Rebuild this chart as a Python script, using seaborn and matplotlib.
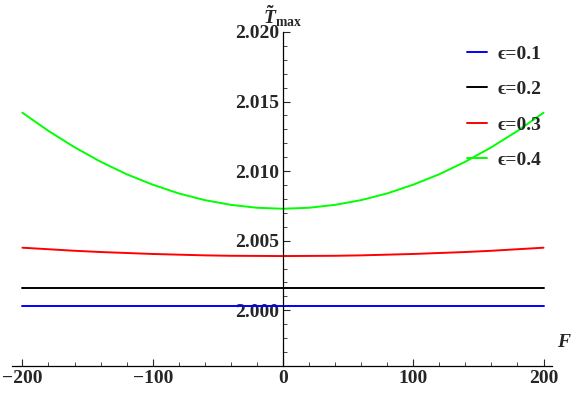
import seaborn as sns
import matplotlib.pyplot as plt
import pandas as pd
from matplotlib.ticker import MultipleLocator

# F values and T_max
F = [-200, -180, -160, -140, -120, -100, -80, -60, -40, -20, 0,
     20, 40, 60, 80, 100, 120, 140, 160, 180, 200]
t01 = [2.0003] * 21
t02 = [2.0016] * 21
t03 = [2.00450, 2.00439, 2.00428, 2.00419, 2.00412, 2.00405, 2.00400, 2.00395, 2.00392, 2.00391, 2.00390,
       2.00391, 2.00392, 2.00395, 2.00400, 2.00405, 2.00412, 2.00419, 2.00428, 2.00439, 2.00450]
t04 = [2.01420, 2.01289, 2.01172, 2.01068, 2.00978, 2.00903, 2.00840, 2.00792, 2.00758, 2.00737, 2.00730,
       2.00737, 2.00758, 2.00792, 2.00840, 2.00903, 2.00978, 2.01068, 2.01172, 2.01289, 2.01420]
labels = ["ϵ=0.1", "ϵ=0.2", "ϵ=0.3", "ϵ=0.4"]
colors = ["#0000ff", "#000000", "#ff0000", "#00ff00"]

df = pd.concat([pd.DataFrame({"F": F, "T": t, "eps": lab})
                for t, lab in zip([t01, t02, t03, t04], labels)])

sns.set_style("white")
plt.rcParams['font.family'] = ['Liberation Serif', 'DejaVu Serif']
plt.rcParams['font.weight'] = 'bold'
plt.rcParams['mathtext.fontset'] = 'custom'
plt.rcParams['mathtext.it'] = 'Liberation Serif:bold:italic'
plt.rcParams['mathtext.bf'] = 'Liberation Serif:bold'
plt.rcParams['mathtext.rm'] = 'Liberation Serif:bold'

fig = plt.figure(figsize=(5.76, 3.94), dpi=100)
ax = fig.add_axes([12/576, 28/394, 540/576, 334/394])
sns.lineplot(data=df, x="F", y="T", hue="eps", palette=colors, linewidth=1.4, ax=ax)

ax.set_xlim(-208, 206.5)
ax.set_ylim(1.996, 2.020)
ax.spines['right'].set_visible(False)
ax.spines['top'].set_visible(False)
ax.spines['left'].set_position(('data', 0))
for s in ['left', 'bottom']:
    ax.spines[s].set_color('black')
    ax.spines[s].set_linewidth(0.9)

ax.xaxis.set_minor_locator(MultipleLocator(20))
ax.yaxis.set_minor_locator(MultipleLocator(0.001))
ax.set_xticks([-200, -100, 0, 100, 200])
ax.set_xticklabels(["−200", "−100", "0", "100", "200"])
ax.set_yticks([2.000, 2.005, 2.010, 2.015, 2.020])
ax.set_yticklabels(["2.000", "2.005", "2.010", "2.015", "2.020"])
ax.tick_params(axis='both', which='major', direction='in', length=5, width=0.8,
               labelsize=14, pad=3, bottom=True, left=True)
ax.tick_params(axis='both', which='minor', direction='in', length=3, width=0.6,
               bottom=True, left=True)
for t in ax.get_xticklabels() + ax.get_yticklabels():
    t.set_fontweight('bold')

ax.set_xlabel("")
ax.set_ylabel("")
ax.text(210, 1.9971, "F", fontsize=14, fontstyle='italic', fontweight='bold',
        ha='left', va='bottom')
ax.text(0, 2.0202, r"$\tilde{T}_{\mathbf{max}}$", fontsize=14, ha='center', va='bottom')

ax.legend(loc='upper left', frameon=False, prop={'size': 14, 'weight': 'bold'},
          handlelength=1.05, handletextpad=0.5, labelspacing=0.92,
          borderpad=0, borderaxespad=0,
          bbox_to_anchor=(467/576, 1 - 45/394), bbox_transform=fig.transFigure)

fig.savefig("out.png", dpi=100)
